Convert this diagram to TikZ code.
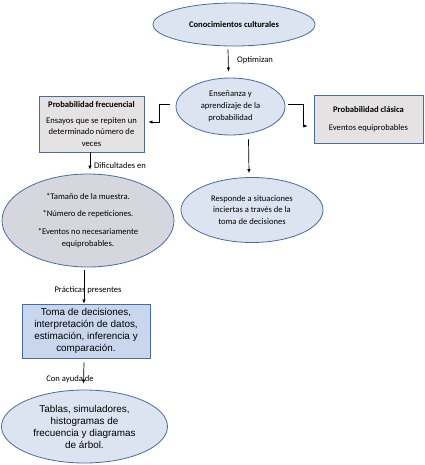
\documentclass[tikz,border=0pt]{standalone}
\usepackage{fontspec}
\setmainfont{Carlito}
\newfontfamily\arialf{Liberation Sans}
\usetikzlibrary{shapes.geometric,arrows.meta,calc}
\definecolor{ebord}{HTML}{4A6C9B}
\definecolor{efill}{HTML}{DCE4F2}
\definecolor{gfill}{HTML}{E4E2E2}
\definecolor{gfill2}{HTML}{D6D7DE}
\definecolor{bfill}{HTML}{C9D7EE}
\tikzset{
  ell/.style={ellipse, draw=ebord, fill=efill, line width=0.8pt, inner sep=0pt, align=center},
  gbox/.style={rectangle, draw=ebord, fill=gfill, line width=0.8pt, inner sep=0pt, align=center},
  arr/.style={-{Latex[length=4pt,width=3.5pt]}, line width=0.7pt},
  lbl/.style={font=\fontsize{8.6}{10}\selectfont, inner sep=0pt},
  ctext/.style={font=\fontsize{8.6}{11.8}\selectfont},
  atext/.style={font=\arialf\fontsize{9.9}{12}\selectfont}
}
\begin{document}
\begin{tikzpicture}[x=1pt,y=-1pt]
\useasboundingbox (0,0) rectangle (424,465);
\node[ell, ctext, minimum width=162pt, minimum height=43pt] (e1) at (234,24.5) {\bfseries Conocimientos culturales};
\node[ell, ctext, minimum width=109pt, minimum height=57pt] (e2) at (230.5,106.5) {Enseñanza y\\ aprendizaje de la\\ probabilidad};
\node[gbox, ctext, minimum width=105pt, minimum height=56pt] (b1) at (91.5,124) {{\bfseries Probabilidad frecuencial}\\[4pt] Ensayos que se repiten un\\ determinado número de\\ veces};
\node[gbox, ctext, minimum width=109pt, minimum height=48pt] (b2) at (368.5,119) {{\bfseries Probabilidad clásica}\\[6pt] Eventos equiprobables};
\node[ell, ctext, fill=gfill2, minimum width=172pt, minimum height=93pt] (e3) at (88,220.5) {*Tamaño de la muestra.\\[6pt] *Número de repeticiones.\\[6pt] *Eventos no necesariamente\\ equiprobables.};
\node[ell, ctext, minimum width=142pt, minimum height=65pt] (e4) at (252,210) {Responde a situaciones\\ inciertas a través de la\\ toma de decisiones};
\node[gbox, atext, fill=bfill, minimum width=128pt, minimum height=54pt] (b5) at (86,331) {Toma de decisiones,\\ interpretación de datos,\\ estimación, inferencia y\\ comparación.};
\node[ell, atext, minimum width=166pt, minimum height=73pt] (e6) at (84.5,426.5) {Tablas, simuladores,\\ histogramas de\\ frecuencia y diagramas\\ de árbol.};
% connectors
\draw[arr] ([xshift=-6pt,yshift=-3pt]e1.south) -- ([xshift=-2pt,yshift=6pt]e2.north);
\node[lbl, anchor=west] (l1) at (237,60) {Optimizan};
\draw[arr] ([xshift=-6pt,yshift=2pt]e2.west) -- ++(-10,0) |- ([xshift=4pt,yshift=2pt]b1.east);
\draw[arr] ([xshift=3pt,yshift=2pt]e2.east) -- ++(15,0) |- ([xshift=-6pt,yshift=-7pt]b2.west);
\draw[arr] ([xshift=18pt,yshift=-4pt]e2.south) -- ([xshift=-3pt,yshift=4pt]e4.north);
\draw[arr] ([xshift=-1.5pt]b1.south) -- ([xshift=2pt,yshift=4pt]e3.north);
\node[lbl, anchor=west] (l2) at (94,166) {Dificultades en};
\draw[arr] ([xshift=-4pt,yshift=-3pt]e3.south) -- ([xshift=-2pt]b5.north);
\node[lbl] (l3) at (88,290) {Prácticas presentes};
\draw[arr] ([xshift=-2pt,yshift=-4pt]b5.south) -- ([xshift=-1pt,yshift=6pt]e6.north);
\node[lbl] (l4) at (70,379) {Con ayuda de};
\end{tikzpicture}
\end{document}
